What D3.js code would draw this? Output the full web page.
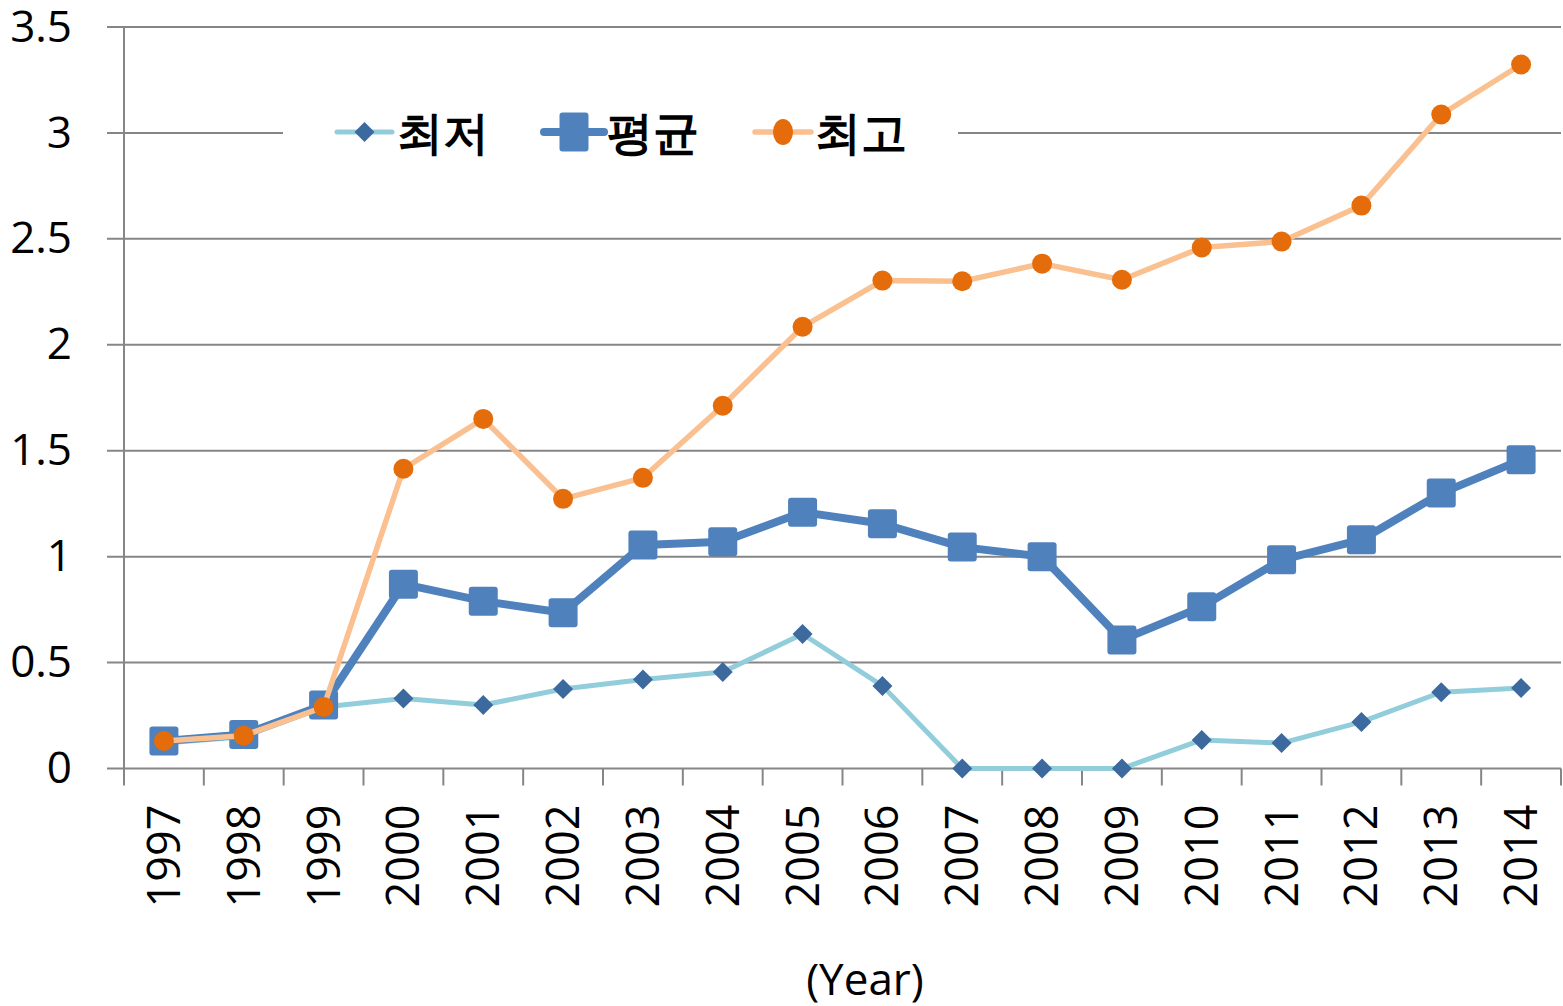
<!DOCTYPE html>
<html>
<head>
<meta charset="utf-8">
<script src="https://cdn.jsdelivr.net/npm/d3@7"></script>
<style>
  body { margin: 0; background: #fff; }
  svg { display: block; }
  text { font-family: "Open Sans", "Noto Sans", sans-serif; }
</style>
</head>
<body>
<svg id="chart"></svg>
<script>
// data
const years = ["1997","1998","1999","2000","2001","2002","2003","2004","2005",
               "2006","2007","2008","2009","2010","2011","2012","2013","2014"];
const minVals  = [0.12, 0.15, 0.29, 0.33, 0.30, 0.375, 0.42, 0.455, 0.635, 0.39, 0, 0, 0, 0.135, 0.12, 0.22, 0.36, 0.38];
const avgVals  = [0.13, 0.16, 0.30, 0.87, 0.79, 0.735, 1.055, 1.07, 1.21, 1.155, 1.045, 1.0, 0.607, 0.763, 0.985, 1.08, 1.30, 1.457];
const maxVals  = [0.13, 0.155, 0.29, 1.415, 1.65, 1.273, 1.372, 1.712, 2.085, 2.303, 2.30, 2.383, 2.307, 2.459, 2.487, 2.657, 3.087, 3.323];
const yTicks   = [0, 0.5, 1, 1.5, 2, 2.5, 3, 3.5];
const seriesNames = ["최저", "평균", "최고"];

const W = 1563, H = 1006;
const margin = { top: 27, right: 2, bottom: 237.5, left: 124 };
const w = W - margin.left - margin.right;
const h = H - margin.top - margin.bottom;

const svg = d3.select("#chart").attr("width", W).attr("height", H);

const x = d3.scaleBand().domain(years).range([0, w]);
const y = d3.scaleLinear().domain([0, 3.5]).range([h, 0]);

const g = svg.append("g").attr("transform", `translate(${margin.left},${margin.top})`);

const gridColor = "#868686";

// gridlines
g.append("g")
  .selectAll("line")
  .data(yTicks)
  .join("line")
  .attr("x1", -17).attr("x2", w)
  .attr("y1", d => y(d)).attr("y2", d => y(d))
  .attr("stroke", gridColor).attr("stroke-width", 2);

// y axis labels
const yAxis = g.append("g")
  .call(d3.axisLeft(y).tickValues(yTicks).tickSize(0).tickPadding(52).tickFormat(d3.format("")));
yAxis.select(".domain").remove();
yAxis.selectAll("text")
  .attr("font-size", 44).attr("fill", "#000")
  .attr("font-family", "'Open Sans', sans-serif");

// y axis line
g.append("line")
  .attr("x1", 0).attr("x2", 0).attr("y1", 0).attr("y2", h + 17)
  .attr("stroke", gridColor).attr("stroke-width", 2);

// x ticks at band edges
const edges = years.map(d => x(d)).concat([w]);
g.append("g")
  .selectAll("line")
  .data(edges.slice(1))
  .join("line")
  .attr("x1", d => d).attr("x2", d => d)
  .attr("y1", h).attr("y2", h + 17)
  .attr("stroke", gridColor).attr("stroke-width", 2);

// x labels rotated
g.append("g")
  .selectAll("text")
  .data(years)
  .join("text")
  .attr("transform", d => `translate(${x(d) + x.bandwidth() / 2 + 16},${h + 36}) rotate(-90)`)
  .attr("text-anchor", "end")
  .attr("font-size", 45)
  .attr("fill", "#000")
  .text(d => d);

// x axis title
svg.append("text")
  .attr("x", 865).attr("y", 995)
  .attr("text-anchor", "middle")
  .attr("font-size", 44)
  .attr("fill", "#000")
  .text("(Year)");

const cx = d => x(d) + x.bandwidth() / 2;
const line = d3.line().x((d, i) => cx(years[i])).y(d => y(d));

// 최저
g.append("path").datum(minVals)
  .attr("d", line).attr("fill", "none")
  .attr("stroke", "#92CDDC").attr("stroke-width", 5).attr("stroke-linejoin", "round");
g.append("g").selectAll("path")
  .data(minVals)
  .join("path")
  .attr("d", d3.symbol(d3.symbolSquare, 200))
  .attr("transform", (d, i) => `translate(${cx(years[i])},${y(d)}) rotate(45)`)
  .attr("fill", "#3C6A9E");

// 평균
g.append("path").datum(avgVals)
  .attr("d", line).attr("fill", "none")
  .attr("stroke", "#4F81BD").attr("stroke-width", 8).attr("stroke-linejoin", "round");
g.append("g").selectAll("rect")
  .data(avgVals)
  .join("rect")
  .attr("x", (d, i) => cx(years[i]) - 14.5)
  .attr("y", d => y(d) - 14.5)
  .attr("width", 29).attr("height", 29)
  .attr("rx", 3)
  .attr("fill", "#4F81BD");

// 최고
g.append("path").datum(maxVals)
  .attr("d", line).attr("fill", "none")
  .attr("stroke", "#FAC090").attr("stroke-width", 5.5).attr("stroke-linejoin", "round");
g.append("g").selectAll("circle")
  .data(maxVals)
  .join("circle")
  .attr("cx", (d, i) => cx(years[i]))
  .attr("cy", d => y(d))
  .attr("r", 10)
  .attr("fill", "#E46C0A");

// legend
const legend = svg.append("g");
legend.append("rect")
  .attr("x", 283).attr("y", 105).attr("width", 675).attr("height", 56)
  .attr("fill", "#fff");

const ly = 132;
const legendItems = [
  { name: seriesNames[0], x0: 337, x1: 392, color: "#92CDDC", sw: 5, mark: "diamond", mc: "#3C6A9E", tx: 397 },
  { name: seriesNames[1], x0: 544, x1: 604, color: "#4F81BD", sw: 8, mark: "square", mc: "#4F81BD", tx: 607 },
  { name: seriesNames[2], x0: 755, x1: 811, color: "#FAC090", sw: 5.5, mark: "circle", mc: "#E46C0A", tx: 815 }
];
legendItems.forEach(it => {
  legend.append("line")
    .attr("x1", it.x0).attr("x2", it.x1).attr("y1", ly).attr("y2", ly)
    .attr("stroke", it.color).attr("stroke-width", it.sw).attr("stroke-linecap", "round");
  const mx = (it.x0 + it.x1) / 2;
  if (it.mark === "diamond") {
    legend.append("path")
      .attr("d", d3.symbol(d3.symbolSquare, 200))
      .attr("transform", `translate(${mx},${ly}) rotate(45)`)
      .attr("fill", it.mc);
  } else if (it.mark === "square") {
    legend.append("rect")
      .attr("x", mx - 14.5).attr("y", ly - 19.5).attr("width", 29).attr("height", 39)
      .attr("rx", 3).attr("fill", it.mc);
  } else {
    legend.append("ellipse")
      .attr("cx", mx).attr("cy", ly).attr("rx", 10).attr("ry", 13)
      .attr("fill", it.mc);
  }
  legend.append("text")
    .attr("x", it.tx).attr("y", ly + 17)
    .attr("font-family", "'Noto Sans CJK KR', sans-serif")
    .attr("font-weight", 900)
    .attr("font-size", 46)
    .attr("fill", "#000")
    .text(it.name);
});
</script>
</body>
</html>
